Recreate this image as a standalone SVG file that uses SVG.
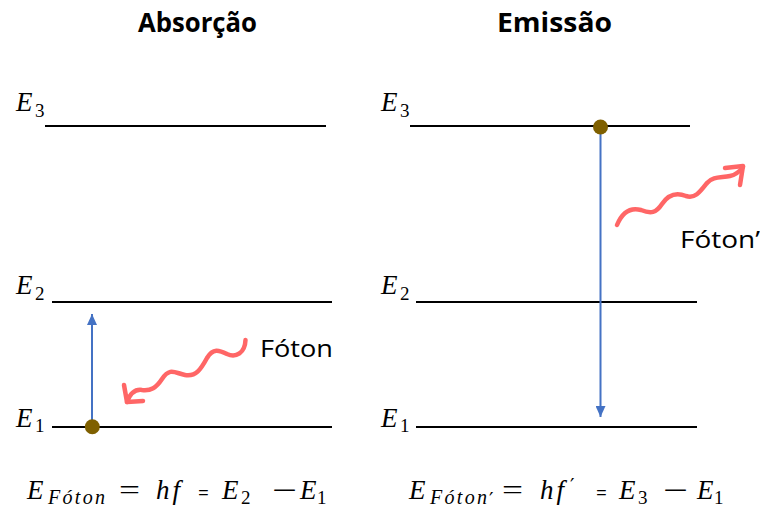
<svg xmlns="http://www.w3.org/2000/svg" width="760" height="515" viewBox="0 0 760 515">
<defs>
<style>
.lvl{stroke:#000;stroke-width:2}
.v{font-family:"Liberation Serif",serif;font-style:italic;fill:#000;font-size:27px}
.s{font-family:"Liberation Serif",serif;font-style:italic;fill:#000;font-size:20px;letter-spacing:2.3px}
.n{font-family:"Liberation Serif",serif;fill:#000;font-size:19px}
.op{font-family:"Liberation Serif",serif;fill:#000;font-size:27px}
.pr{font-family:"DejaVu Sans",sans-serif;fill:#000;font-size:20px}
.eq{font-family:"Open Sans","Liberation Sans",sans-serif;fill:#000;font-size:19px}
.title{font-family:"Open Sans","Liberation Sans",sans-serif;font-weight:700;font-size:26px;text-anchor:middle;fill:#000}
.lbl{font-family:"Open Sans","Liberation Sans",sans-serif;font-size:24px;fill:#000}
.wave{fill:none;stroke:#FF6666;stroke-width:4.5;stroke-linecap:round;stroke-linejoin:round}
.tr{stroke:#4472C4;stroke-width:2;fill:none}
.dot{fill:#7F6000}
</style>
<marker id="ah" viewBox="0 0 11 10" refX="11" refY="5" markerWidth="11" markerHeight="10" markerUnits="userSpaceOnUse" orient="auto">
<path d="M0,0 L11,5 L0,10 z" fill="#4472C4"/>
</marker>
</defs>
<rect width="760" height="515" fill="#fff"/>

<g id="titles">
<text class="title" x="197.5" y="32" textLength="119" lengthAdjust="spacingAndGlyphs">Absorção</text>
<text class="title" x="554.5" y="32" textLength="115" lengthAdjust="spacingAndGlyphs">Emissão</text>
</g>

<g id="abs-E3">
<line class="lvl" x1="45" y1="126" x2="326" y2="126"/>
<text class="v" x="16" y="111">E</text>
<text class="n" x="35" y="117">3</text>
</g>
<g id="abs-E2">
<line class="lvl" x1="52" y1="302" x2="332" y2="302"/>
<text class="v" x="16" y="294">E</text>
<text class="n" x="35" y="300">2</text>
</g>
<g id="abs-E1">
<line class="lvl" x1="52" y1="427" x2="332" y2="427"/>
<text class="v" x="16" y="427">E</text>
<text class="n" x="35" y="432">1</text>
</g>

<g id="emi-E3">
<line class="lvl" x1="410" y1="126" x2="690" y2="126"/>
<text class="v" x="381" y="111">E</text>
<text class="n" x="400" y="117">3</text>
</g>
<g id="emi-E2">
<line class="lvl" x1="416" y1="302" x2="697" y2="302"/>
<text class="v" x="381" y="294">E</text>
<text class="n" x="400" y="300">2</text>
</g>
<g id="emi-E1">
<line class="lvl" x1="416" y1="427" x2="697" y2="427"/>
<text class="v" x="381" y="427">E</text>
<text class="n" x="400" y="432">1</text>
</g>

<g id="connectors">
<line class="tr" x1="92" y1="420" x2="92" y2="314" marker-end="url(#ah)"/>
<line class="tr" x1="600.5" y1="130" x2="600.5" y2="417" marker-end="url(#ah)"/>
<path class="wave" d="M245.5,340 C245,353 236,358 227,354 C219,350 213,348 207,358 C201,369 196,377 185,375 C175,373 170,367 162,379 C156,388 151,391 142,390 C135,389 130,394 127,402"/>
<path class="wave" d="M124,385 L127,402 L143,401"/>
<path class="wave" d="M617,225 C622,213 630,207 641,210 C651,214 656,213 662,204 C668,195 676,192 686,196 C695,199 700,192 707,183 C713,176 722,178 730,176 C735,175 740,171 743,167"/>
<path class="wave" d="M725,168 L743,166 L740,185"/>
</g>

<g id="electron-abs"><circle class="dot" cx="92.3" cy="426.7" r="7.5"/></g>
<g id="electron-emi"><circle class="dot" cx="600.5" cy="127" r="7.5"/></g>

<g id="photon-labels">
<text class="lbl" x="260" y="357" textLength="73" lengthAdjust="spacingAndGlyphs">Fóton</text>
<text class="lbl" x="680" y="248" textLength="80" lengthAdjust="spacingAndGlyphs">Fóton’</text>
</g>

<g id="formula-abs">
<text class="v" x="27" y="499">E</text>
<text class="s" x="48" y="504">Fóton</text>
<text class="op" x="119" y="499" textLength="21" lengthAdjust="spacingAndGlyphs">=</text>
<text class="v" x="156" y="499" letter-spacing="3">hf</text>
<text class="eq" x="198" y="499">=</text>
<text class="v" x="222" y="499">E</text>
<text class="n" x="241" y="504">2</text>
<text class="op" x="272" y="499" textLength="25" lengthAdjust="spacingAndGlyphs">−</text>
<text class="v" x="300" y="499">E</text>
<text class="n" x="317" y="504">1</text>
</g>

<g id="formula-emi">
<text class="v" x="409" y="499">E</text>
<text class="s" x="430" y="504">Fóton</text>
<text class="pr" x="489" y="506" font-size="14">′</text>
<text class="op" x="502" y="499" textLength="21" lengthAdjust="spacingAndGlyphs">=</text>
<text class="v" x="540" y="499" letter-spacing="3">hf</text>
<text class="pr" x="570" y="492">′</text>
<text class="eq" x="596" y="499">=</text>
<text class="v" x="619" y="499">E</text>
<text class="n" x="638" y="504">3</text>
<text class="op" x="663" y="499" textLength="25" lengthAdjust="spacingAndGlyphs">−</text>
<text class="v" x="697" y="499">E</text>
<text class="n" x="714" y="504">1</text>
</g>
</svg>
